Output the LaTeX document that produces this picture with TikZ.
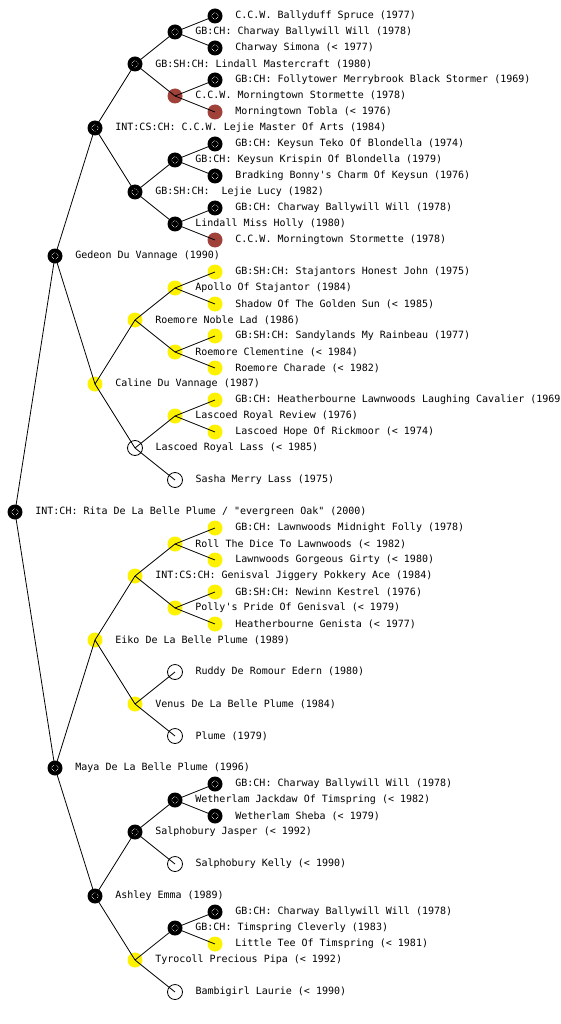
\documentclass[tikz,border=0pt]{standalone}
\usepackage{fontspec}
\newfontfamily\dogfont{DejaVu Sans Mono}
\usetikzlibrary{positioning}
\definecolor{liver}{RGB}{160,66,58}
\tikzset{
dog/.style={circle,minimum size=15pt,inner sep=0pt},
champ/.style={dog,fill=black,path picture={\draw[white,densely dotted,line width=.6pt](path picture bounding box.center) circle (3.2pt);}},
gold/.style={dog,fill=yellow},
red/.style={dog,fill=liver},
unknown/.style={dog,draw,fill=white,line width=.8pt},
dogname/.style={font=\dogfont\fontsize{10}{12}\selectfont,inner sep=0pt,xshift=12.5pt},
link/.style={line width=.8pt}
}

\begin{document}
\begin{tikzpicture}[x=1pt,y=-1pt]
\useasboundingbox (0,0) rectangle (560,1024);
% root
\node[champ,label={[dogname]right:INT:CH: Rita De La Belle Plume / "evergreen Oak" (2000)}](d32) at (15,512){};
% sire side
\node[champ,label={[dogname]right:Gedeon Du Vannage (1990)}](d16) at (55,256){};
\node[champ,label={[dogname]right:INT:CS:CH: C.C.W. Lejie Master Of Arts (1984)}](d8) at (95,128){};
\node[champ,label={[dogname]right:GB:SH:CH: Lindall Mastercraft (1980)}](d4) at (135,64){};
\node[champ,label={[dogname]right:GB:CH: Charway Ballywill Will (1978)}](d2) at (175,32){};
\node[champ,label={[dogname]right:C.C.W. Ballyduff Spruce (1977)}](d1) at (215,16){};
\node[champ,label={[dogname]right:Charway Simona (< 1977)}](d3) at (215,48){};
\node[red,label={[dogname]right:C.C.W. Morningtown Stormette (1978)}](d6) at (175,96){};
\node[champ,label={[dogname]right:GB:CH: Follytower Merrybrook Black Stormer (1969)}](d5) at (215,80){};
\node[red,label={[dogname]right:Morningtown Tobla (< 1976)}](d7) at (215,112){};
\node[champ,label={[dogname]right:GB:SH:CH:\ \ Lejie Lucy (1982)}](d12) at (135,192){};
\node[champ,label={[dogname]right:GB:CH: Keysun Krispin Of Blondella (1979)}](d10) at (175,160){};
\node[champ,label={[dogname]right:GB:CH: Keysun Teko Of Blondella (1974)}](d9) at (215,144){};
\node[champ,label={[dogname]right:Bradking Bonny's Charm Of Keysun (1976)}](d11) at (215,176){};
\node[champ,label={[dogname]right:Lindall Miss Holly (1980)}](d14) at (175,224){};
\node[champ,label={[dogname]right:GB:CH: Charway Ballywill Will (1978)}](d13) at (215,208){};
\node[red,label={[dogname]right:C.C.W. Morningtown Stormette (1978)}](d15) at (215,240){};
\node[gold,label={[dogname]right:Caline Du Vannage (1987)}](d24) at (95,384){};
\node[gold,label={[dogname]right:Roemore Noble Lad (1986)}](d20) at (135,320){};
\node[gold,label={[dogname]right:Apollo Of Stajantor (1984)}](d18) at (175,288){};
\node[gold,label={[dogname]right:GB:SH:CH: Stajantors Honest John (1975)}](d17) at (215,272){};
\node[gold,label={[dogname]right:Shadow Of The Golden Sun (< 1985)}](d19) at (215,304){};
\node[gold,label={[dogname]right:Roemore Clementine (< 1984)}](d22) at (175,352){};
\node[gold,label={[dogname]right:GB:SH:CH: Sandylands My Rainbeau (1977)}](d21) at (215,336){};
\node[gold,label={[dogname]right:Roemore Charade (< 1982)}](d23) at (215,368){};
\node[unknown,label={[dogname]right:Lascoed Royal Lass (< 1985)}](d28) at (135,448){};
\node[gold,label={[dogname]right:Lascoed Royal Review (1976)}](d26) at (175,416){};
\node[gold,label={[dogname]right:GB:CH: Heatherbourne Lawnwoods Laughing Cavalier (1969)}](d25) at (215,400){};
\node[gold,label={[dogname]right:Lascoed Hope Of Rickmoor (< 1974)}](d27) at (215,432){};
\node[unknown,label={[dogname]right:Sasha Merry Lass (1975)}](d30) at (175,480){};
% dam side
\node[champ,label={[dogname]right:Maya De La Belle Plume (1996)}](d48) at (55,768){};
\node[gold,label={[dogname]right:Eiko De La Belle Plume (1989)}](d40) at (95,640){};
\node[gold,label={[dogname]right:INT:CS:CH: Genisval Jiggery Pokkery Ace (1984)}](d36) at (135,576){};
\node[gold,label={[dogname]right:Roll The Dice To Lawnwoods (< 1982)}](d34) at (175,544){};
\node[gold,label={[dogname]right:GB:CH: Lawnwoods Midnight Folly (1978)}](d33) at (215,528){};
\node[gold,label={[dogname]right:Lawnwoods Gorgeous Girty (< 1980)}](d35) at (215,560){};
\node[gold,label={[dogname]right:Polly's Pride Of Genisval (< 1979)}](d38) at (175,608){};
\node[gold,label={[dogname]right:GB:SH:CH: Newinn Kestrel (1976)}](d37) at (215,592){};
\node[gold,label={[dogname]right:Heatherbourne Genista (< 1977)}](d39) at (215,624){};
\node[gold,label={[dogname]right:Venus De La Belle Plume (1984)}](d44) at (135,704){};
\node[unknown,label={[dogname]right:Ruddy De Romour Edern (1980)}](d42) at (175,672){};
\node[unknown,label={[dogname]right:Plume (1979)}](d46) at (175,736){};
\node[champ,label={[dogname]right:Ashley Emma (1989)}](d56) at (95,896){};
\node[champ,label={[dogname]right:Salphobury Jasper (< 1992)}](d52) at (135,832){};
\node[champ,label={[dogname]right:Wetherlam Jackdaw Of Timspring (< 1982)}](d50) at (175,800){};
\node[champ,label={[dogname]right:GB:CH: Charway Ballywill Will (1978)}](d49) at (215,784){};
\node[champ,label={[dogname]right:Wetherlam Sheba (< 1979)}](d51) at (215,816){};
\node[unknown,label={[dogname]right:Salphobury Kelly (< 1990)}](d54) at (175,864){};
\node[gold,label={[dogname]right:Tyrocoll Precious Pipa (< 1992)}](d60) at (135,960){};
\node[champ,label={[dogname]right:GB:CH: Timspring Cleverly (1983)}](d58) at (175,928){};
\node[champ,label={[dogname]right:GB:CH: Charway Ballywill Will (1978)}](d57) at (215,912){};
\node[gold,label={[dogname]right:Little Tee Of Timspring (< 1981)}](d59) at (215,944){};
\node[unknown,label={[dogname]right:Bambigirl Laurie (< 1990)}](d62) at (175,992){};
% links parent to child
\foreach \x/\y in {d32/d16,d32/d48,d16/d8,d16/d24,d8/d4,d8/d12,d4/d2,d4/d6,d2/d1,d2/d3,d6/d5,d6/d7,
  d12/d10,d12/d14,d10/d9,d10/d11,d14/d13,d14/d15,d24/d20,d24/d28,d20/d18,d20/d22,d18/d17,d18/d19,
  d22/d21,d22/d23,d28/d26,d28/d30,d26/d25,d26/d27,d48/d40,d48/d56,d40/d36,d40/d44,d36/d34,d36/d38,
  d34/d33,d34/d35,d38/d37,d38/d39,d44/d42,d44/d46,d56/d52,d56/d60,d52/d50,d52/d54,d50/d49,d50/d51,
  d60/d58,d60/d62,d58/d57,d58/d59}
  \draw[link](\x.center)--(\y.center);
\end{tikzpicture}
\end{document}
